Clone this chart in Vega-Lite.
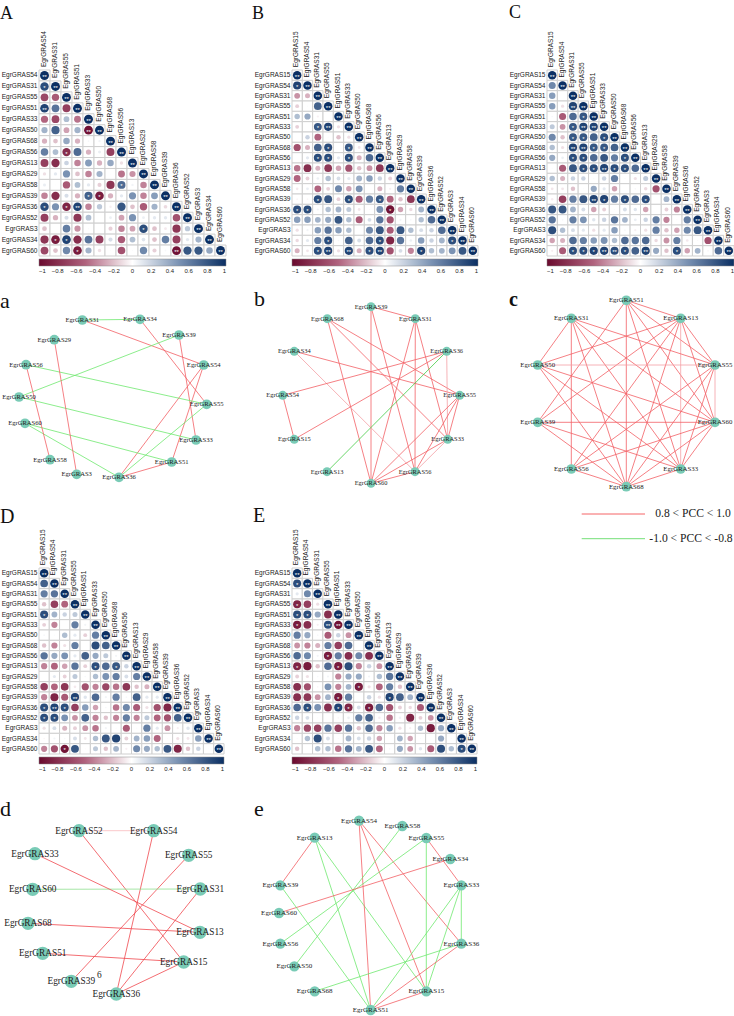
{"$schema":"https://vega.github.io/schema/vega-lite/v6.json","autosize":"none","padding":{"left":39,"top":70,"right":695,"bottom":946},"background":"white","columns":3,"spacing":{"row":34,"column":66},"bounds":"flush","config":{"view":{"stroke":null}},"resolve":{"scale":{"color":"independent","size":"independent","strokeWidth":"independent"}},
"datasets":{
"dA":[{"a":"S54","b":"S54","r":1,"s":"**"},
{"a":"S54","b":"S31","r":0.85,"s":"*"},{"a":"S31","b":"S31","r":1,"s":"**"},
{"a":"S54","b":"S55","r":-0.65},{"a":"S31","b":"S55","r":-0.55},{"a":"S55","b":"S55","r":1,"s":"**"},
{"a":"S54","b":"S51","r":0.9,"s":"**"},{"a":"S31","b":"S51","r":0.65},{"a":"S55","b":"S51","r":-0.7},{"a":"S51","b":"S51","r":1,"s":"**"},
{"a":"S54","b":"S33","r":-0.5},{"a":"S31","b":"S33","r":-0.65},{"a":"S55","b":"S33","r":0.3},{"a":"S51","b":"S33","r":-0.45},{"a":"S33","b":"S33","r":1,"s":"**"},
{"a":"S54","b":"S50","r":0.35},{"a":"S31","b":"S50","r":0.75},{"a":"S55","b":"S50","r":-0.3},{"a":"S51","b":"S50","r":0.35},{"a":"S33","b":"S50","r":-0.95,"s":"**"},{"a":"S50","b":"S50","r":1,"s":"**"},
{"a":"S54","b":"S68","r":-0.25},{"a":"S31","b":"S68","r":-0.2},{"a":"S55","b":"S68","r":0.4},{"a":"S51","b":"S68","r":-0.25},{"a":"S33","b":"S68","r":0.03},{"a":"S50","b":"S68","r":0.05},{"a":"S68","b":"S68","r":1,"s":"**"},
{"a":"S54","b":"S56","r":0.6},{"a":"S31","b":"S56","r":0.3},{"a":"S55","b":"S56","r":-0.8,"s":"*"},{"a":"S51","b":"S56","r":0.7},{"a":"S33","b":"S56","r":-0.25},{"a":"S50","b":"S56","r":0.08},{"a":"S68","b":"S56","r":-0.7},{"a":"S56","b":"S56","r":1,"s":"**"},
{"a":"S54","b":"S13","r":-0.7},{"a":"S31","b":"S13","r":-0.8},{"a":"S55","b":"S13","r":0.2},{"a":"S51","b":"S13","r":-0.4},{"a":"S33","b":"S13","r":0.45},{"a":"S50","b":"S13","r":-0.25},{"a":"S68","b":"S13","r":0.4},{"a":"S56","b":"S13","r":-0.1},{"a":"S13","b":"S13","r":1,"s":"**"},
{"a":"S54","b":"S29","r":-0.1},{"a":"S31","b":"S29","r":0.1},{"a":"S55","b":"S29","r":0.5},{"a":"S51","b":"S29","r":-0.2},{"a":"S33","b":"S29","r":-0.4},{"a":"S50","b":"S29","r":0.35},{"a":"S68","b":"S29","r":0.01},{"a":"S56","b":"S29","r":-0.45},{"a":"S13","b":"S29","r":-0.35},{"a":"S29","b":"S29","r":1,"s":"**"},
{"a":"S54","b":"S58","r":0.08},{"a":"S31","b":"S58","r":0.01},{"a":"S55","b":"S58","r":-0.55},{"a":"S51","b":"S58","r":0.3},{"a":"S33","b":"S58","r":0.1},{"a":"S50","b":"S58","r":-0.15},{"a":"S68","b":"S58","r":-0.75},{"a":"S56","b":"S58","r":0.7,"s":"*"},{"a":"S13","b":"S58","r":0.05},{"a":"S29","b":"S58","r":-0.4},{"a":"S58","b":"S58","r":1,"s":"**"},
{"a":"S54","b":"S39","r":-0.4},{"a":"S31","b":"S39","r":-0.8},{"a":"S55","b":"S39","r":0.15},{"a":"S51","b":"S39","r":-0.25},{"a":"S33","b":"S39","r":0.75,"s":"*"},{"a":"S50","b":"S39","r":-0.9,"s":"*"},{"a":"S68","b":"S39","r":-0.25},{"a":"S56","b":"S39","r":0.1},{"a":"S13","b":"S39","r":0.5},{"a":"S29","b":"S39","r":-0.4},{"a":"S58","b":"S39","r":0.45},{"a":"S39","b":"S39","r":1,"s":"**"},
{"a":"S54","b":"S36","r":0.85,"s":"*"},{"a":"S31","b":"S36","r":0.5},{"a":"S55","b":"S36","r":-0.85,"s":"*"},{"a":"S51","b":"S36","r":0.9,"s":"**"},{"a":"S33","b":"S36","r":-0.4},{"a":"S50","b":"S36","r":0.25},{"a":"S68","b":"S36","r":-0.05},{"a":"S56","b":"S36","r":0.8},{"a":"S13","b":"S36","r":-0.2},{"a":"S29","b":"S36","r":-0.55},{"a":"S58","b":"S36","r":0.35},{"a":"S39","b":"S36","r":-0.12},{"a":"S36","b":"S36","r":1,"s":"**"},
{"a":"S54","b":"S52","r":-0.7},{"a":"S31","b":"S52","r":-0.25},{"a":"S55","b":"S52","r":0.15},{"a":"S51","b":"S52","r":-0.75},{"a":"S33","b":"S52","r":0.3},{"a":"S50","b":"S52","r":0},{"a":"S68","b":"S52","r":0.07},{"a":"S56","b":"S52","r":-0.3},{"a":"S13","b":"S52","r":0.5},{"a":"S29","b":"S52","r":0.07},{"a":"S58","b":"S52","r":0.1},{"a":"S39","b":"S52","r":0.1},{"a":"S36","b":"S52","r":-0.6},{"a":"S52","b":"S52","r":1,"s":"**"},
{"a":"S54","b":"S3","r":-0.2},{"a":"S31","b":"S3","r":0},{"a":"S55","b":"S3","r":0.6},{"a":"S51","b":"S3","r":-0.35},{"a":"S33","b":"S3","r":0.02},{"a":"S50","b":"S3","r":0},{"a":"S68","b":"S3","r":-0.15},{"a":"S56","b":"S3","r":-0.4},{"a":"S13","b":"S3","r":-0.3},{"a":"S29","b":"S3","r":0.85,"s":"*"},{"a":"S58","b":"S3","r":-0.2},{"a":"S39","b":"S3","r":-0.07},{"a":"S36","b":"S3","r":-0.75},{"a":"S52","b":"S3","r":0.25},{"a":"S3","b":"S3","r":1,"s":"**"},
{"a":"S54","b":"S34","r":-0.75},{"a":"S31","b":"S34","r":-0.9,"s":"*"},{"a":"S55","b":"S34","r":0.9,"s":"*"},{"a":"S51","b":"S34","r":-0.8},{"a":"S33","b":"S34","r":0.65},{"a":"S50","b":"S34","r":-0.7},{"a":"S68","b":"S34","r":0.15},{"a":"S56","b":"S34","r":-0.55},{"a":"S13","b":"S34","r":0.3},{"a":"S29","b":"S34","r":0.12},{"a":"S58","b":"S34","r":-0.2},{"a":"S39","b":"S34","r":0.6},{"a":"S36","b":"S34","r":-0.7},{"a":"S52","b":"S34","r":0.1},{"a":"S3","b":"S34","r":0.35},{"a":"S34","b":"S34","r":1,"s":"**"},
{"a":"S54","b":"S60","r":-0.65},{"a":"S31","b":"S60","r":-0.2},{"a":"S55","b":"S60","r":0.55},{"a":"S51","b":"S60","r":-0.9,"s":"*"},{"a":"S33","b":"S60","r":0.35},{"a":"S50","b":"S60","r":-0.1},{"a":"S68","b":"S60","r":0.01},{"a":"S56","b":"S60","r":-0.6},{"a":"S13","b":"S60","r":0.02},{"a":"S29","b":"S60","r":0.55},{"a":"S58","b":"S60","r":-0.15},{"a":"S39","b":"S60","r":0.03},{"a":"S36","b":"S60","r":-0.95,"s":"**"},{"a":"S52","b":"S60","r":0.8},{"a":"S3","b":"S60","r":0.8},{"a":"S34","b":"S60","r":0.4},{"a":"S60","b":"S60","r":1,"s":"**"}],
"dB":[{"a":"S15","b":"S15","r":1,"s":"**"},
{"a":"S15","b":"S54","r":0.9,"s":"*"},{"a":"S54","b":"S54","r":1,"s":"**"},
{"a":"S15","b":"S31","r":-0.35},{"a":"S54","b":"S31","r":-0.25},{"a":"S31","b":"S31","r":1,"s":"**"},
{"a":"S15","b":"S55","r":-0.15},{"a":"S54","b":"S55","r":0.02},{"a":"S31","b":"S55","r":0.75},{"a":"S55","b":"S55","r":1,"s":"**"},
{"a":"S15","b":"S51","r":0.3},{"a":"S54","b":"S51","r":0.4},{"a":"S31","b":"S51","r":-0.05},{"a":"S55","b":"S51","r":0},{"a":"S51","b":"S51","r":1,"s":"**"},
{"a":"S15","b":"S33","r":-0.15},{"a":"S54","b":"S33","r":0},{"a":"S31","b":"S33","r":0.8,"s":"*"},{"a":"S55","b":"S33","r":0.9,"s":"**"},{"a":"S51","b":"S33","r":-0.1},{"a":"S33","b":"S33","r":1,"s":"**"},
{"a":"S15","b":"S50","r":0},{"a":"S54","b":"S50","r":0.2},{"a":"S31","b":"S50","r":-0.5},{"a":"S55","b":"S50","r":0.02},{"a":"S51","b":"S50","r":-0.2},{"a":"S33","b":"S50","r":-0.1},{"a":"S50","b":"S50","r":1,"s":"**"},
{"a":"S15","b":"S68","r":-0.6},{"a":"S54","b":"S68","r":-0.25},{"a":"S31","b":"S68","r":0.75},{"a":"S55","b":"S68","r":0.85,"s":"*"},{"a":"S51","b":"S68","r":0},{"a":"S33","b":"S68","r":0.8,"s":"*"},{"a":"S50","b":"S68","r":-0.08},{"a":"S68","b":"S68","r":1,"s":"**"},
{"a":"S15","b":"S56","r":0},{"a":"S54","b":"S56","r":0.1},{"a":"S31","b":"S56","r":0.85,"s":"*"},{"a":"S55","b":"S56","r":0.85,"s":"*"},{"a":"S51","b":"S56","r":0.1},{"a":"S33","b":"S56","r":0.85,"s":"*"},{"a":"S50","b":"S56","r":-0.25},{"a":"S68","b":"S56","r":0.7},{"a":"S56","b":"S56","r":1,"s":"**"},
{"a":"S15","b":"S13","r":-0.45},{"a":"S54","b":"S13","r":-0.8},{"a":"S31","b":"S13","r":-0.25},{"a":"S55","b":"S13","r":-0.75},{"a":"S51","b":"S13","r":-0.3},{"a":"S33","b":"S13","r":-0.6},{"a":"S50","b":"S13","r":-0.2},{"a":"S68","b":"S13","r":-0.35},{"a":"S56","b":"S13","r":-0.75},{"a":"S13","b":"S13","r":1,"s":"**"},
{"a":"S15","b":"S29","r":-0.5},{"a":"S54","b":"S29","r":-0.15},{"a":"S31","b":"S29","r":0.07},{"a":"S55","b":"S29","r":0.3},{"a":"S51","b":"S29","r":0.15},{"a":"S33","b":"S29","r":0.1},{"a":"S50","b":"S29","r":0.35},{"a":"S68","b":"S29","r":0.45},{"a":"S56","b":"S29","r":0.2},{"a":"S13","b":"S29","r":-0.15},{"a":"S29","b":"S29","r":1,"s":"**"},
{"a":"S15","b":"S58","r":-0.07},{"a":"S54","b":"S58","r":0.08},{"a":"S31","b":"S58","r":-0.5},{"a":"S55","b":"S58","r":-0.15},{"a":"S51","b":"S58","r":0.55},{"a":"S33","b":"S58","r":-0.3},{"a":"S50","b":"S58","r":0.5},{"a":"S68","b":"S58","r":0},{"a":"S56","b":"S58","r":-0.25},{"a":"S13","b":"S58","r":-0.05},{"a":"S29","b":"S58","r":0.6},{"a":"S58","b":"S58","r":1,"s":"**"},
{"a":"S15","b":"S39","r":-0.03},{"a":"S54","b":"S39","r":-0.03},{"a":"S31","b":"S39","r":0.85,"s":"*"},{"a":"S55","b":"S39","r":0.8},{"a":"S51","b":"S39","r":-0.15},{"a":"S33","b":"S39","r":0.85,"s":"*"},{"a":"S50","b":"S39","r":-0.55},{"a":"S68","b":"S39","r":0.6},{"a":"S56","b":"S39","r":0.8,"s":"*"},{"a":"S13","b":"S39","r":-0.5},{"a":"S29","b":"S39","r":-0.2},{"a":"S58","b":"S39","r":-0.75},{"a":"S39","b":"S39","r":1,"s":"**"},
{"a":"S15","b":"S36","r":0.85,"s":"*"},{"a":"S54","b":"S36","r":0.85,"s":"*"},{"a":"S31","b":"S36","r":0.05},{"a":"S55","b":"S36","r":0.3},{"a":"S51","b":"S36","r":0.35},{"a":"S33","b":"S36","r":0.25},{"a":"S50","b":"S36","r":-0.08},{"a":"S68","b":"S36","r":-0.02},{"a":"S56","b":"S36","r":0.5},{"a":"S13","b":"S36","r":-0.95,"s":"*"},{"a":"S29","b":"S36","r":-0.3},{"a":"S58","b":"S36","r":-0.12},{"a":"S39","b":"S36","r":0.35},{"a":"S36","b":"S36","r":1,"s":"**"},
{"a":"S15","b":"S52","r":0.45},{"a":"S54","b":"S52","r":0.45},{"a":"S31","b":"S52","r":0.35},{"a":"S55","b":"S52","r":0.4},{"a":"S51","b":"S52","r":0.8},{"a":"S33","b":"S52","r":0.3},{"a":"S50","b":"S52","r":-0.55},{"a":"S68","b":"S52","r":0.15},{"a":"S56","b":"S52","r":0.65},{"a":"S13","b":"S52","r":-0.6},{"a":"S29","b":"S52","r":0.05},{"a":"S58","b":"S52","r":0.03},{"a":"S39","b":"S52","r":0.3},{"a":"S36","b":"S52","r":0.7},{"a":"S52","b":"S52","r":1,"s":"**"},
{"a":"S15","b":"S3","r":-0.1},{"a":"S54","b":"S3","r":0.05},{"a":"S31","b":"S3","r":0.45},{"a":"S55","b":"S3","r":0.65},{"a":"S51","b":"S3","r":0.45},{"a":"S33","b":"S3","r":0.3},{"a":"S50","b":"S3","r":-0.01},{"a":"S68","b":"S3","r":0.55},{"a":"S56","b":"S3","r":0.8},{"a":"S13","b":"S3","r":-0.55},{"a":"S29","b":"S3","r":0.8},{"a":"S58","b":"S3","r":0.3},{"a":"S39","b":"S3","r":0.15},{"a":"S36","b":"S3","r":0.2},{"a":"S52","b":"S3","r":0.7},{"a":"S3","b":"S3","r":1,"s":"**"},
{"a":"S15","b":"S34","r":-0.12},{"a":"S54","b":"S34","r":0.1},{"a":"S31","b":"S34","r":0.6},{"a":"S55","b":"S34","r":0.85,"s":"*"},{"a":"S51","b":"S34","r":0.03},{"a":"S33","b":"S34","r":0.75},{"a":"S50","b":"S34","r":0.15},{"a":"S68","b":"S34","r":0.7},{"a":"S56","b":"S34","r":0.85,"s":"*"},{"a":"S13","b":"S34","r":-0.85},{"a":"S29","b":"S34","r":0.65},{"a":"S58","b":"S34","r":0.07},{"a":"S39","b":"S34","r":0.45},{"a":"S36","b":"S34","r":0.2},{"a":"S52","b":"S34","r":0.35},{"a":"S3","b":"S34","r":0.85,"s":"*"},{"a":"S34","b":"S34","r":1,"s":"**"},
{"a":"S15","b":"S60","r":-0.25},{"a":"S54","b":"S60","r":-0.08},{"a":"S31","b":"S60","r":0.85,"s":"*"},{"a":"S55","b":"S60","r":0.9,"s":"**"},{"a":"S51","b":"S60","r":-0.1},{"a":"S33","b":"S60","r":0.9,"s":"**"},{"a":"S50","b":"S60","r":-0.25},{"a":"S68","b":"S60","r":0.85,"s":"*"},{"a":"S56","b":"S60","r":0.9,"s":"**"},{"a":"S13","b":"S60","r":-0.6},{"a":"S29","b":"S60","r":0.15},{"a":"S58","b":"S60","r":-0.4},{"a":"S39","b":"S60","r":0.9,"s":"*"},{"a":"S36","b":"S60","r":0.3},{"a":"S52","b":"S60","r":0.35},{"a":"S3","b":"S60","r":0.5},{"a":"S34","b":"S60","r":0.8},{"a":"S60","b":"S60","r":1,"s":"**"}],
"dC":[{"a":"S15","b":"S15","r":1,"s":"**"},
{"a":"S15","b":"S54","r":0.55},{"a":"S54","b":"S54","r":1,"s":"**"},
{"a":"S15","b":"S31","r":0.45},{"a":"S54","b":"S31","r":0},{"a":"S31","b":"S31","r":1,"s":"**"},
{"a":"S15","b":"S55","r":0.45},{"a":"S54","b":"S55","r":-0.1},{"a":"S31","b":"S55","r":0.9,"s":"**"},{"a":"S55","b":"S55","r":1,"s":"**"},
{"a":"S15","b":"S51","r":0.03},{"a":"S54","b":"S51","r":-0.55},{"a":"S31","b":"S51","r":0.7},{"a":"S55","b":"S51","r":0.8,"s":"*"},{"a":"S51","b":"S51","r":1,"s":"**"},
{"a":"S15","b":"S33","r":0.25},{"a":"S54","b":"S33","r":-0.35},{"a":"S31","b":"S33","r":0.8,"s":"*"},{"a":"S55","b":"S33","r":0.9,"s":"**"},{"a":"S51","b":"S33","r":0.9,"s":"**"},{"a":"S33","b":"S33","r":1,"s":"**"},
{"a":"S15","b":"S50","r":0.55},{"a":"S54","b":"S50","r":-0.2},{"a":"S31","b":"S50","r":0.8,"s":"*"},{"a":"S55","b":"S50","r":0.8,"s":"*"},{"a":"S51","b":"S50","r":0.75},{"a":"S33","b":"S50","r":0.85,"s":"*"},{"a":"S50","b":"S50","r":1,"s":"**"},
{"a":"S15","b":"S68","r":0.3},{"a":"S54","b":"S68","r":-0.1},{"a":"S31","b":"S68","r":0.9,"s":"**"},{"a":"S55","b":"S68","r":0.9,"s":"**"},{"a":"S51","b":"S68","r":0.8,"s":"*"},{"a":"S33","b":"S68","r":0.8,"s":"*"},{"a":"S50","b":"S68","r":0.75},{"a":"S68","b":"S68","r":1,"s":"**"},
{"a":"S15","b":"S56","r":0.4},{"a":"S54","b":"S56","r":0.07},{"a":"S31","b":"S56","r":0.85,"s":"*"},{"a":"S55","b":"S56","r":0.85,"s":"*"},{"a":"S51","b":"S56","r":0.7},{"a":"S33","b":"S56","r":0.8},{"a":"S50","b":"S56","r":0.6},{"a":"S68","b":"S56","r":0.85,"s":"*"},{"a":"S56","b":"S56","r":1,"s":"**"},
{"a":"S15","b":"S13","r":0.02},{"a":"S54","b":"S13","r":-0.55},{"a":"S31","b":"S13","r":0.8},{"a":"S55","b":"S13","r":0.85,"s":"*"},{"a":"S51","b":"S13","r":0.85,"s":"*"},{"a":"S33","b":"S13","r":0.9,"s":"**"},{"a":"S50","b":"S13","r":0.85,"s":"*"},{"a":"S68","b":"S13","r":0.85,"s":"*"},{"a":"S56","b":"S13","r":0.7},{"a":"S13","b":"S13","r":1,"s":"**"},
{"a":"S15","b":"S29","r":0.3},{"a":"S54","b":"S29","r":-0.25},{"a":"S31","b":"S29","r":0.2},{"a":"S55","b":"S29","r":0.2},{"a":"S51","b":"S29","r":0.02},{"a":"S33","b":"S29","r":0.2},{"a":"S50","b":"S29","r":0.6},{"a":"S68","b":"S29","r":0.02},{"a":"S56","b":"S29","r":-0.1},{"a":"S13","b":"S29","r":0.25},{"a":"S29","b":"S29","r":1,"s":"**"},
{"a":"S15","b":"S58","r":-0.08},{"a":"S54","b":"S58","r":-0.08},{"a":"S31","b":"S58","r":-0.2},{"a":"S55","b":"S58","r":0.02},{"a":"S51","b":"S58","r":0.4},{"a":"S33","b":"S58","r":0.1},{"a":"S50","b":"S58","r":-0.3},{"a":"S68","b":"S58","r":0},{"a":"S56","b":"S58","r":0.03},{"a":"S13","b":"S58","r":-0.12},{"a":"S29","b":"S58","r":-0.6},{"a":"S58","b":"S58","r":1,"s":"**"},
{"a":"S15","b":"S39","r":-0.06},{"a":"S54","b":"S39","r":-0.7},{"a":"S31","b":"S39","r":0.6},{"a":"S55","b":"S39","r":0.8},{"a":"S51","b":"S39","r":0.9,"s":"**"},{"a":"S33","b":"S39","r":0.9,"s":"*"},{"a":"S50","b":"S39","r":0.6},{"a":"S68","b":"S39","r":0.85,"s":"*"},{"a":"S56","b":"S39","r":0.7},{"a":"S13","b":"S39","r":0.85,"s":"*"},{"a":"S29","b":"S39","r":0},{"a":"S58","b":"S39","r":0.35},{"a":"S39","b":"S39","r":1,"s":"**"},
{"a":"S15","b":"S36","r":0.8},{"a":"S54","b":"S36","r":0.8},{"a":"S31","b":"S36","r":0.35},{"a":"S55","b":"S36","r":0.15},{"a":"S51","b":"S36","r":-0.3},{"a":"S33","b":"S36","r":-0.15},{"a":"S50","b":"S36","r":0.02},{"a":"S68","b":"S36","r":0.15},{"a":"S56","b":"S36","r":0.12},{"a":"S13","b":"S36","r":-0.3},{"a":"S29","b":"S36","r":0},{"a":"S58","b":"S36","r":-0.15},{"a":"S39","b":"S36","r":-0.4},{"a":"S36","b":"S36","r":1,"s":"**"},
{"a":"S15","b":"S52","r":0.65},{"a":"S54","b":"S52","r":0.03},{"a":"S31","b":"S52","r":0.6},{"a":"S55","b":"S52","r":0.5},{"a":"S51","b":"S52","r":0.12},{"a":"S33","b":"S52","r":0.2},{"a":"S50","b":"S52","r":0.65},{"a":"S68","b":"S52","r":0.35},{"a":"S56","b":"S52","r":0.08},{"a":"S13","b":"S52","r":0.2},{"a":"S29","b":"S52","r":0.6},{"a":"S58","b":"S52","r":-0.4},{"a":"S39","b":"S52","r":0.02},{"a":"S36","b":"S52","r":0.6},{"a":"S52","b":"S52","r":1,"s":"**"},
{"a":"S15","b":"S3","r":0.85},{"a":"S54","b":"S3","r":0.3},{"a":"S31","b":"S3","r":0.15},{"a":"S55","b":"S3","r":0.1},{"a":"S51","b":"S3","r":-0.1},{"a":"S33","b":"S3","r":0.1},{"a":"S50","b":"S3","r":0.45},{"a":"S68","b":"S3","r":0.03},{"a":"S56","b":"S3","r":-0.05},{"a":"S13","b":"S3","r":-0.1},{"a":"S29","b":"S3","r":0.6},{"a":"S58","b":"S3","r":-0.2},{"a":"S39","b":"S3","r":-0.3},{"a":"S36","b":"S3","r":0.55},{"a":"S52","b":"S3","r":0.8},{"a":"S3","b":"S3","r":1,"s":"**"},
{"a":"S15","b":"S34","r":-0.3},{"a":"S54","b":"S34","r":-0.25},{"a":"S31","b":"S34","r":0.7},{"a":"S55","b":"S34","r":0.6},{"a":"S51","b":"S34","r":0.45},{"a":"S33","b":"S34","r":0.5},{"a":"S50","b":"S34","r":0.3},{"a":"S68","b":"S34","r":0.7},{"a":"S56","b":"S34","r":0.65},{"a":"S13","b":"S34","r":0.7},{"a":"S29","b":"S34","r":-0.12},{"a":"S58","b":"S34","r":-0.35},{"a":"S39","b":"S34","r":0.6},{"a":"S36","b":"S34","r":-0.07},{"a":"S52","b":"S34","r":-0.02},{"a":"S3","b":"S34","r":-0.6},{"a":"S34","b":"S34","r":1,"s":"**"},
{"a":"S15","b":"S60","r":-0.05},{"a":"S54","b":"S60","r":-0.55},{"a":"S31","b":"S60","r":0.85,"s":"*"},{"a":"S55","b":"S60","r":0.85,"s":"*"},{"a":"S51","b":"S60","r":0.9,"s":"*"},{"a":"S33","b":"S60","r":0.9,"s":"**"},{"a":"S50","b":"S60","r":0.85,"s":"**"},{"a":"S68","b":"S60","r":0.85,"s":"*"},{"a":"S56","b":"S60","r":0.75},{"a":"S13","b":"S60","r":0.9,"s":"**"},{"a":"S29","b":"S60","r":0.4},{"a":"S58","b":"S60","r":-0.2},{"a":"S39","b":"S60","r":0.85,"s":"*"},{"a":"S36","b":"S60","r":-0.3},{"a":"S52","b":"S60","r":0.35},{"a":"S3","b":"S60","r":-0.03},{"a":"S34","b":"S60","r":0.7},{"a":"S60","b":"S60","r":1,"s":"**"}],
"dD":[{"a":"S15","b":"S15","r":1,"s":"**"},
{"a":"S15","b":"S54","r":0.75},{"a":"S54","b":"S54","r":1,"s":"**"},
{"a":"S15","b":"S31","r":0.6},{"a":"S54","b":"S31","r":0.65},{"a":"S31","b":"S31","r":1,"s":"**"},
{"a":"S15","b":"S55","r":-0.2},{"a":"S54","b":"S55","r":-0.7},{"a":"S31","b":"S55","r":-0.5},{"a":"S55","b":"S55","r":1,"s":"**"},
{"a":"S15","b":"S51","r":0.85,"s":"*"},{"a":"S54","b":"S51","r":0.35},{"a":"S31","b":"S51","r":0.2},{"a":"S55","b":"S51","r":0.25},{"a":"S51","b":"S51","r":1,"s":"**"},
{"a":"S15","b":"S33","r":-0.15},{"a":"S54","b":"S33","r":-0.4},{"a":"S31","b":"S33","r":0},{"a":"S55","b":"S33","r":0.6},{"a":"S51","b":"S33","r":0.05},{"a":"S33","b":"S33","r":1,"s":"**"},
{"a":"S15","b":"S50","r":0.03},{"a":"S54","b":"S50","r":0.02},{"a":"S31","b":"S50","r":0.3},{"a":"S55","b":"S50","r":0.1},{"a":"S51","b":"S50","r":-0.15},{"a":"S33","b":"S50","r":0.6},{"a":"S50","b":"S50","r":1,"s":"**"},
{"a":"S15","b":"S68","r":-0.2},{"a":"S54","b":"S68","r":-0.4},{"a":"S31","b":"S68","r":-0.1},{"a":"S55","b":"S68","r":0.6},{"a":"S51","b":"S68","r":0},{"a":"S33","b":"S68","r":0.85},{"a":"S50","b":"S68","r":0.75},{"a":"S68","b":"S68","r":1,"s":"**"},
{"a":"S15","b":"S56","r":0.65},{"a":"S54","b":"S56","r":0.4},{"a":"S31","b":"S56","r":0.5},{"a":"S55","b":"S56","r":0.1},{"a":"S51","b":"S56","r":0.75},{"a":"S33","b":"S56","r":0.4},{"a":"S50","b":"S56","r":0.25},{"a":"S68","b":"S56","r":0.05},{"a":"S56","b":"S56","r":1,"s":"**"},
{"a":"S15","b":"S13","r":-0.4},{"a":"S54","b":"S13","r":-0.5},{"a":"S31","b":"S13","r":-0.3},{"a":"S55","b":"S13","r":0.65},{"a":"S51","b":"S13","r":-0.15},{"a":"S33","b":"S13","r":0.85,"s":"*"},{"a":"S50","b":"S13","r":0.7},{"a":"S68","b":"S13","r":0.8,"s":"*"},{"a":"S56","b":"S13","r":0.2},{"a":"S13","b":"S13","r":1,"s":"**"},
{"a":"S15","b":"S29","r":0},{"a":"S54","b":"S29","r":0.1},{"a":"S31","b":"S29","r":-0.15},{"a":"S55","b":"S29","r":0.25},{"a":"S51","b":"S29","r":0.03},{"a":"S33","b":"S29","r":0.3},{"a":"S50","b":"S29","r":0.5},{"a":"S68","b":"S29","r":0.6},{"a":"S56","b":"S29","r":0.15},{"a":"S13","b":"S29","r":0.6},{"a":"S29","b":"S29","r":1,"s":"**"},
{"a":"S15","b":"S58","r":-0.7},{"a":"S54","b":"S58","r":-0.5},{"a":"S31","b":"S58","r":-0.75},{"a":"S55","b":"S58","r":-0.07},{"a":"S51","b":"S58","r":-0.6},{"a":"S33","b":"S58","r":-0.4},{"a":"S50","b":"S58","r":-0.65},{"a":"S68","b":"S58","r":-0.45},{"a":"S56","b":"S58","r":-0.75},{"a":"S13","b":"S58","r":-0.2},{"a":"S29","b":"S58","r":-0.25},{"a":"S58","b":"S58","r":1,"s":"**"},
{"a":"S15","b":"S39","r":-0.4},{"a":"S54","b":"S39","r":-0.85},{"a":"S31","b":"S39","r":-0.55},{"a":"S55","b":"S39","r":0.9,"s":"**"},{"a":"S51","b":"S39","r":0.12},{"a":"S33","b":"S39","r":0.7},{"a":"S50","b":"S39","r":0.05},{"a":"S68","b":"S39","r":0.6},{"a":"S56","b":"S39","r":0.03},{"a":"S13","b":"S39","r":0.75},{"a":"S29","b":"S39","r":0.1},{"a":"S58","b":"S39","r":0.1},{"a":"S39","b":"S39","r":1,"s":"**"},
{"a":"S15","b":"S36","r":0.85,"s":"*"},{"a":"S54","b":"S36","r":0.9,"s":"**"},{"a":"S31","b":"S36","r":0.85,"s":"*"},{"a":"S55","b":"S36","r":-0.7},{"a":"S51","b":"S36","r":0.45},{"a":"S33","b":"S36","r":-0.3},{"a":"S50","b":"S36","r":0.03},{"a":"S68","b":"S36","r":-0.45},{"a":"S56","b":"S36","r":0.55},{"a":"S13","b":"S36","r":-0.55},{"a":"S29","b":"S36","r":-0.1},{"a":"S58","b":"S36","r":-0.6},{"a":"S39","b":"S36","r":-0.85},{"a":"S36","b":"S36","r":1,"s":"**"},
{"a":"S15","b":"S52","r":0.85,"s":"*"},{"a":"S54","b":"S52","r":0.85,"s":"*"},{"a":"S31","b":"S52","r":0.5},{"a":"S55","b":"S52","r":-0.35},{"a":"S51","b":"S52","r":0.75},{"a":"S33","b":"S52","r":-0.4},{"a":"S50","b":"S52","r":-0.2},{"a":"S68","b":"S52","r":-0.4},{"a":"S56","b":"S52","r":0.6},{"a":"S13","b":"S52","r":-0.4},{"a":"S29","b":"S52","r":0.25},{"a":"S58","b":"S52","r":-0.5},{"a":"S39","b":"S52","r":-0.6},{"a":"S36","b":"S52","r":0.75},{"a":"S52","b":"S52","r":1,"s":"**"},
{"a":"S15","b":"S3","r":-0.1},{"a":"S54","b":"S3","r":0.15},{"a":"S31","b":"S3","r":-0.25},{"a":"S55","b":"S3","r":-0.15},{"a":"S51","b":"S3","r":-0.35},{"a":"S33","b":"S3","r":-0.45},{"a":"S50","b":"S3","r":0.05},{"a":"S68","b":"S3","r":0.02},{"a":"S56","b":"S3","r":-0.55},{"a":"S13","b":"S3","r":0.02},{"a":"S29","b":"S3","r":0.6},{"a":"S58","b":"S3","r":0.1},{"a":"S39","b":"S3","r":-0.35},{"a":"S36","b":"S3","r":-0.05},{"a":"S52","b":"S3","r":0.12},{"a":"S3","b":"S3","r":1,"s":"**"},
{"a":"S15","b":"S34","r":-0.03},{"a":"S54","b":"S34","r":0.05},{"a":"S31","b":"S34","r":0.03},{"a":"S55","b":"S34","r":0.15},{"a":"S51","b":"S34","r":-0.08},{"a":"S33","b":"S34","r":0.3},{"a":"S50","b":"S34","r":0.8},{"a":"S68","b":"S34","r":0.9},{"a":"S56","b":"S34","r":-0.15},{"a":"S13","b":"S34","r":0.35},{"a":"S29","b":"S34","r":0.45},{"a":"S58","b":"S34","r":-0.5},{"a":"S39","b":"S34","r":-0.01},{"a":"S36","b":"S34","r":-0.1},{"a":"S52","b":"S34","r":-0.08},{"a":"S3","b":"S34","r":0.45},{"a":"S34","b":"S34","r":1,"s":"**"},
{"a":"S15","b":"S60","r":-0.4},{"a":"S54","b":"S60","r":-0.6},{"a":"S31","b":"S60","r":-0.95,"s":"*"},{"a":"S55","b":"S60","r":0.8},{"a":"S51","b":"S60","r":-0.02},{"a":"S33","b":"S60","r":0.25},{"a":"S50","b":"S60","r":-0.2},{"a":"S68","b":"S60","r":0.35},{"a":"S56","b":"S60","r":-0.05},{"a":"S13","b":"S60","r":0.55},{"a":"S29","b":"S60","r":0.4},{"a":"S58","b":"S60","r":0.3},{"a":"S39","b":"S60","r":0.8},{"a":"S36","b":"S60","r":-0.85},{"a":"S52","b":"S60","r":-0.2},{"a":"S3","b":"S60","r":0.2},{"a":"S34","b":"S60","r":-0.01},{"a":"S60","b":"S60","r":1,"s":"**"}],
"dE":[{"a":"S15","b":"S15","r":1,"s":"**"},
{"a":"S15","b":"S54","r":0.85,"s":"*"},{"a":"S54","b":"S54","r":1,"s":"**"},
{"a":"S15","b":"S31","r":0.1},{"a":"S54","b":"S31","r":0.55},{"a":"S31","b":"S31","r":1,"s":"**"},
{"a":"S15","b":"S55","r":-0.85,"s":"*"},{"a":"S54","b":"S55","r":-0.7},{"a":"S31","b":"S55","r":-0.1},{"a":"S55","b":"S55","r":1,"s":"**"},
{"a":"S15","b":"S51","r":0.85,"s":"*"},{"a":"S54","b":"S51","r":0.85,"s":"*"},{"a":"S31","b":"S51","r":0.4},{"a":"S55","b":"S51","r":-0.8},{"a":"S51","b":"S51","r":1,"s":"**"},
{"a":"S15","b":"S33","r":-0.9,"s":"*"},{"a":"S54","b":"S33","r":-0.8},{"a":"S31","b":"S33","r":-0.05},{"a":"S55","b":"S33","r":0.85,"s":"**"},{"a":"S51","b":"S33","r":-0.95,"s":"**"},{"a":"S33","b":"S33","r":1,"s":"**"},
{"a":"S15","b":"S50","r":0.6},{"a":"S54","b":"S50","r":0.4},{"a":"S31","b":"S50","r":0.03},{"a":"S55","b":"S50","r":-0.55},{"a":"S51","b":"S50","r":0.2},{"a":"S33","b":"S50","r":-0.35},{"a":"S50","b":"S50","r":1,"s":"**"},
{"a":"S15","b":"S68","r":-0.35},{"a":"S54","b":"S68","r":-0.4},{"a":"S31","b":"S68","r":-0.25},{"a":"S55","b":"S68","r":0.6},{"a":"S51","b":"S68","r":-0.7},{"a":"S33","b":"S68","r":0.7},{"a":"S50","b":"S68","r":0},{"a":"S68","b":"S68","r":1,"s":"**"},
{"a":"S15","b":"S56","r":0.7},{"a":"S54","b":"S56","r":0.55},{"a":"S31","b":"S56","r":0.05},{"a":"S55","b":"S56","r":-0.9,"s":"*"},{"a":"S51","b":"S56","r":0.6},{"a":"S33","b":"S56","r":-0.8},{"a":"S50","b":"S56","r":0.55},{"a":"S68","b":"S56","r":-0.8},{"a":"S56","b":"S56","r":1,"s":"**"},
{"a":"S15","b":"S13","r":-0.85,"s":"*"},{"a":"S54","b":"S13","r":-0.9},{"a":"S31","b":"S13","r":-0.2},{"a":"S55","b":"S13","r":0.7},{"a":"S51","b":"S13","r":-0.9,"s":"*"},{"a":"S33","b":"S13","r":0.85},{"a":"S50","b":"S13","r":-0.4},{"a":"S68","b":"S13","r":0.2},{"a":"S56","b":"S13","r":-0.35},{"a":"S13","b":"S13","r":1,"s":"**"},
{"a":"S15","b":"S29","r":-0.15},{"a":"S54","b":"S29","r":-0.1},{"a":"S31","b":"S29","r":0.03},{"a":"S55","b":"S29","r":0.05},{"a":"S51","b":"S29","r":-0.4},{"a":"S33","b":"S29","r":0.4},{"a":"S50","b":"S29","r":0.4},{"a":"S68","b":"S29","r":0.05},{"a":"S56","b":"S29","r":0.3},{"a":"S13","b":"S29","r":0.65},{"a":"S29","b":"S29","r":1,"s":"**"},
{"a":"S15","b":"S58","r":-0.8},{"a":"S54","b":"S58","r":-0.6},{"a":"S31","b":"S58","r":-0.03},{"a":"S55","b":"S58","r":0.5},{"a":"S51","b":"S58","r":-0.4},{"a":"S33","b":"S58","r":0.35},{"a":"S50","b":"S58","r":-0.9,"s":"*"},{"a":"S68","b":"S58","r":-0.1},{"a":"S56","b":"S58","r":-0.5},{"a":"S13","b":"S58","r":0.6},{"a":"S29","b":"S58","r":-0.2},{"a":"S58","b":"S58","r":1,"s":"**"},
{"a":"S15","b":"S39","r":-0.8},{"a":"S54","b":"S39","r":-0.75},{"a":"S31","b":"S39","r":-0.35},{"a":"S55","b":"S39","r":0.35},{"a":"S51","b":"S39","r":-0.9,"s":"*"},{"a":"S33","b":"S39","r":0.6},{"a":"S50","b":"S39","r":0},{"a":"S68","b":"S39","r":0.2},{"a":"S56","b":"S39","r":-0.1},{"a":"S13","b":"S39","r":0.9,"s":"*"},{"a":"S29","b":"S39","r":0.75},{"a":"S58","b":"S39","r":0.35},{"a":"S39","b":"S39","r":1,"s":"**"},
{"a":"S15","b":"S36","r":0.7},{"a":"S54","b":"S36","r":0.85,"s":"*"},{"a":"S31","b":"S36","r":0.5},{"a":"S55","b":"S36","r":-0.8},{"a":"S51","b":"S36","r":0.9,"s":"*"},{"a":"S33","b":"S36","r":-0.85,"s":"*"},{"a":"S50","b":"S36","r":0.15},{"a":"S68","b":"S36","r":-0.9,"s":"*"},{"a":"S56","b":"S36","r":0.7},{"a":"S13","b":"S36","r":-0.6},{"a":"S29","b":"S36","r":-0.15},{"a":"S58","b":"S36","r":-0.12},{"a":"S39","b":"S36","r":-0.55},{"a":"S36","b":"S36","r":1,"s":"**"},
{"a":"S15","b":"S52","r":0.2},{"a":"S54","b":"S52","r":0.15},{"a":"S31","b":"S52","r":0.02},{"a":"S55","b":"S52","r":0},{"a":"S51","b":"S52","r":-0.03},{"a":"S33","b":"S52","r":0.07},{"a":"S50","b":"S52","r":0.6},{"a":"S68","b":"S52","r":0.75},{"a":"S56","b":"S52","r":-0.06},{"a":"S13","b":"S52","r":-0.45},{"a":"S29","b":"S52","r":0.06},{"a":"S58","b":"S52","r":-0.85},{"a":"S39","b":"S52","r":-0.15},{"a":"S36","b":"S52","r":-0.35},{"a":"S52","b":"S52","r":1,"s":"**"},
{"a":"S15","b":"S3","r":-0.4},{"a":"S54","b":"S3","r":-0.65},{"a":"S31","b":"S3","r":-0.7},{"a":"S55","b":"S3","r":0.65},{"a":"S51","b":"S3","r":-0.7},{"a":"S33","b":"S3","r":0.65},{"a":"S50","b":"S3","r":-0.2},{"a":"S68","b":"S3","r":0.7},{"a":"S56","b":"S3","r":-0.4},{"a":"S13","b":"S3","r":0.45},{"a":"S29","b":"S3","r":-0.1},{"a":"S58","b":"S3","r":-0.05},{"a":"S39","b":"S3","r":0.3},{"a":"S36","b":"S3","r":-0.9},{"a":"S52","b":"S3","r":0.4},{"a":"S3","b":"S3","r":1,"s":"**"},
{"a":"S15","b":"S34","r":0.02},{"a":"S54","b":"S34","r":0.3},{"a":"S31","b":"S34","r":0.85},{"a":"S55","b":"S34","r":0.15},{"a":"S51","b":"S34","r":0.02},{"a":"S33","b":"S34","r":0.35},{"a":"S50","b":"S34","r":0.15},{"a":"S68","b":"S34","r":0.2},{"a":"S56","b":"S34","r":-0.3},{"a":"S13","b":"S34","r":0},{"a":"S29","b":"S34","r":0.35},{"a":"S58","b":"S34","r":-0.3},{"a":"S39","b":"S34","r":0.02},{"a":"S36","b":"S34","r":0},{"a":"S52","b":"S34","r":0.4},{"a":"S3","b":"S34","r":0.02},{"a":"S34","b":"S34","r":1,"s":"**"},
{"a":"S15","b":"S60","r":-0.2},{"a":"S54","b":"S60","r":0},{"a":"S31","b":"S60","r":0.3},{"a":"S55","b":"S60","r":0.3},{"a":"S51","b":"S60","r":-0.45},{"a":"S33","b":"S60","r":0.65},{"a":"S50","b":"S60","r":0.35},{"a":"S68","b":"S60","r":0.8},{"a":"S56","b":"S60","r":-0.5},{"a":"S13","b":"S60","r":0.03},{"a":"S29","b":"S60","r":0.4},{"a":"S58","b":"S60","r":-0.35},{"a":"S39","b":"S60","r":0.12},{"a":"S36","b":"S60","r":-0.55},{"a":"S52","b":"S60","r":0.85},{"a":"S3","b":"S60","r":0.3},{"a":"S34","b":"S60","r":0.85,"s":"*"},{"a":"S60","b":"S60","r":1,"s":"**"}],
"na":[{"g":"S31","x":82.3,"y":320},{"g":"S34","x":140,"y":319.3},{"g":"S39","x":179,"y":335},{"g":"S54","x":203.7,"y":365},{"g":"S55","x":206.7,"y":404.3},{"g":"S33","x":196,"y":440},{"g":"S51","x":171.7,"y":462},{"g":"S36","x":119,"y":477.3},{"g":"S3","x":76.7,"y":474.3},{"g":"S58","x":50,"y":459.7},{"g":"S60","x":25,"y":423.3},{"g":"S50","x":19,"y":397},{"g":"S56","x":26,"y":364.7},{"g":"S29","x":54.3,"y":339.7}],
"ea":[{"a":"S31","b":"S34","t":"n"},{"a":"S31","b":"S54","t":"p"},{"a":"S34","b":"S55","t":"p"},{"a":"S39","b":"S33","t":"p"},{"a":"S39","b":"S50","t":"n"},{"a":"S54","b":"S36","t":"p"},{"a":"S54","b":"S51","t":"p"},{"a":"S55","b":"S36","t":"n"},{"a":"S56","b":"S55","t":"n"},{"a":"S50","b":"S33","t":"n"},{"a":"S60","b":"S51","t":"n"},{"a":"S60","b":"S36","t":"n"},{"a":"S56","b":"S58","t":"p"},{"a":"S29","b":"S3","t":"p"},{"a":"S36","b":"S51","t":"p"}],
"nb":[{"g":"S39","x":371,"y":306.7},{"g":"S31","x":415.3,"y":318.7},{"g":"S36","x":446.7,"y":351.3},{"g":"S55","x":459.7,"y":395.3},{"g":"S33","x":447.7,"y":439.3},{"g":"S56","x":415,"y":471.7},{"g":"S60","x":371,"y":483.3},{"g":"S13","x":327,"y":471.7},{"g":"S15","x":294.3,"y":439.3},{"g":"S54","x":282.7,"y":395.3},{"g":"S34","x":294.3,"y":351.3},{"g":"S68","x":327.3,"y":318.7}],
"eb":[{"a":"S39","b":"S31","t":"p"},{"a":"S39","b":"S60","t":"p"},{"a":"S39","b":"S56","t":"p"},{"a":"S68","b":"S60","t":"p"},{"a":"S68","b":"S55","t":"p"},{"a":"S68","b":"S33","t":"p"},{"a":"S31","b":"S60","t":"p"},{"a":"S31","b":"S56","t":"p"},{"a":"S31","b":"S33","t":"p"},{"a":"S34","b":"S55","t":"p"},{"a":"S34","b":"S56","t":"l"},{"a":"S36","b":"S54","t":"p"},{"a":"S36","b":"S15","t":"p"},{"a":"S36","b":"S13","t":"n"},{"a":"S36","b":"S33","t":"l"},{"a":"S54","b":"S15","t":"p"},{"a":"S55","b":"S60","t":"p"},{"a":"S55","b":"S56","t":"p"},{"a":"S55","b":"S33","t":"p"},{"a":"S33","b":"S60","t":"p"},{"a":"S33","b":"S56","t":"l"},{"a":"S56","b":"S60","t":"p"}],
"nc":[{"g":"S51","x":626.3,"y":300.3},{"g":"S13","x":680.7,"y":318.3},{"g":"S55","x":715,"y":365},{"g":"S60","x":715,"y":422.3},{"g":"S33","x":680.7,"y":469},{"g":"S68","x":626.3,"y":486.7},{"g":"S56","x":571.3,"y":469},{"g":"S39","x":537.7,"y":422.3},{"g":"S50","x":537.7,"y":365},{"g":"S31","x":571.3,"y":318.3}],
"ec":[{"a":"S51","b":"S13","t":"p"},{"a":"S51","b":"S55","t":"p"},{"a":"S51","b":"S33","t":"p"},{"a":"S51","b":"S68","t":"p"},{"a":"S51","b":"S39","t":"p"},{"a":"S51","b":"S60","t":"p"},{"a":"S13","b":"S55","t":"p"},{"a":"S13","b":"S50","t":"p"},{"a":"S13","b":"S39","t":"p"},{"a":"S13","b":"S68","t":"p"},{"a":"S13","b":"S33","t":"l"},{"a":"S13","b":"S60","t":"p"},{"a":"S13","b":"S56","t":"p"},{"a":"S31","b":"S50","t":"p"},{"a":"S31","b":"S55","t":"p"},{"a":"S31","b":"S60","t":"p"},{"a":"S31","b":"S33","t":"p"},{"a":"S31","b":"S68","t":"p"},{"a":"S31","b":"S56","t":"p"},{"a":"S50","b":"S55","t":"l"},{"a":"S50","b":"S60","t":"p"},{"a":"S50","b":"S33","t":"p"},{"a":"S50","b":"S68","t":"p"},{"a":"S39","b":"S60","t":"p"},{"a":"S39","b":"S33","t":"p"},{"a":"S39","b":"S68","t":"p"},{"a":"S55","b":"S60","t":"l"},{"a":"S55","b":"S33","t":"p"},{"a":"S55","b":"S68","t":"p"},{"a":"S55","b":"S56","t":"p"},{"a":"S60","b":"S33","t":"p"},{"a":"S60","b":"S68","t":"p"},{"a":"S60","b":"S56","t":"p"},{"a":"S33","b":"S68","t":"p"},{"a":"S56","b":"S68","t":"p"}],
"leg":[{"x":581.7,"x2":645,"y":514,"tx":693,"t":"P","label":"0.8 < PCC < 1.0"},{"x":581.7,"x2":645,"y":538.7,"tx":691,"t":"N","label":"-1.0 < PCC < -0.8"}],
"nd":[{"g":"S52","x":79,"y":830.7},{"g":"S54","x":153.7,"y":830.7},{"g":"S55","x":188.7,"y":855.3},{"g":"S31","x":200.3,"y":889},{"g":"S13","x":200,"y":932.3},{"g":"S15","x":183.7,"y":962},{"g":"S36","x":116.3,"y":994},{"g":"S39","x":71.3,"y":981.3},{"g":"S51","x":42.7,"y":953.3},{"g":"S68","x":28,"y":923.3},{"g":"S60","x":32.7,"y":889.3},{"g":"S33","x":35,"y":853.7}],
"ed":[{"a":"S52","b":"S54","t":"l"},{"a":"S52","b":"S15","t":"p"},{"a":"S54","b":"S36","t":"p"},{"a":"S55","b":"S39","t":"p"},{"a":"S31","b":"S36","t":"p"},{"a":"S60","b":"S31","t":"n"},{"a":"S33","b":"S13","t":"p"},{"a":"S68","b":"S13","t":"p"},{"a":"S51","b":"S15","t":"p"},{"a":"S15","b":"S36","t":"p"}],
"note":[{"x":99.3,"y":975,"label":"6"}],
"ne":[{"g":"S54","x":359,"y":820.7},{"g":"S58","x":402.3,"y":826},{"g":"S55","x":426.3,"y":838},{"g":"S34","x":450.3,"y":859},{"g":"S33","x":461.3,"y":885.3},{"g":"S36","x":461.3,"y":943.7},{"g":"S15","x":426.3,"y":991.3},{"g":"S51","x":370.7,"y":1010},{"g":"S68","x":314.7,"y":991.3},{"g":"S50","x":294.3,"y":966.3},{"g":"S56","x":280.3,"y":943.7},{"g":"S60","x":279,"y":913},{"g":"S39","x":280.3,"y":885.3},{"g":"S13","x":314.7,"y":837.7}],
"ee":[{"a":"S13","b":"S39","t":"p"},{"a":"S13","b":"S51","t":"n"},{"a":"S13","b":"S15","t":"n"},{"a":"S54","b":"S51","t":"p"},{"a":"S54","b":"S15","t":"p"},{"a":"S54","b":"S36","t":"p"},{"a":"S58","b":"S50","t":"n"},{"a":"S55","b":"S56","t":"n"},{"a":"S55","b":"S15","t":"n"},{"a":"S55","b":"S33","t":"p"},{"a":"S34","b":"S60","t":"p"},{"a":"S33","b":"S36","t":"n"},{"a":"S33","b":"S51","t":"n"},{"a":"S33","b":"S15","t":"n"},{"a":"S36","b":"S68","t":"n"},{"a":"S36","b":"S51","t":"p"},{"a":"S39","b":"S51","t":"n"},{"a":"S51","b":"S15","t":"p"}]
},
"concat":[
{"title":{"text":"A","anchor":"start","frame":"group","offset":0,"dx":-39,"dy":6,"font":"Liberation Serif","fontSize":18,"fontWeight":"normal","color":"#111","baseline":"alphabetic"},"width":187,"height":186,"data":{"name":"dA"},
"encoding":{"x":{"field":"a","type":"nominal","scale":{"type":"band","domain":["S54","S31","S55","S51","S33","S50","S68","S56","S13","S29","S58","S39","S36","S52","S3","S34","S60"],"paddingInner":0,"paddingOuter":0},"axis":null},"y":{"field":"b","type":"nominal","scale":{"type":"band","domain":["S54","S31","S55","S51","S33","S50","S68","S56","S13","S29","S58","S39","S36","S52","S3","S34","S60"],"paddingInner":0,"paddingOuter":0},"axis":{"title":null,"domain":false,"ticks":false,"labelExpr":"'EgrGRA'+datum.label","labelFont":"Liberation Sans","labelFontSize":6.5,"labelColor":"#222","labelPadding":2,"labelOverlap":false}}},
"layer":[{"mark":{"type":"rect","fill":"white","stroke":"#cfcfcf","strokeWidth":1}},
{"mark":{"type":"circle","opacity":1},"encoding":{"color":{"field":"r","type":"quantitative","scale":{"domain":[-1,-0.5,0,0.5,1],"range":["#6a0a2e","#b0637e","#ffffff","#7a92b3","#0b2f63"],"interpolate":"rgb"},"legend":{"type":"gradient","orient":"none","legendX":0,"legendY":189,"direction":"horizontal","gradientLength":187,"gradientThickness":7,"title":null,"values":[-1,-0.8,-0.6,-0.4,-0.2,0,0.2,0.4,0.6,0.8,1],"format":"~g","labelFontSize":6,"labelFont":"Liberation Sans","labelColor":"#222","labelAlign":"center","labelOverlap":false,"gradientStrokeColor":"#888","gradientStrokeWidth":0.5}},"size":{"field":"r","type":"quantitative","scale":{"domain":[-1,-0.5,-0.25,0,0.25,0.5,1],"range":[80,52,28,0,28,52,80]},"legend":null}}},
{"transform":[{"filter":"datum.s"}],"mark":{"type":"text","color":"white","fontSize":6,"dy":1.5,"font":"Liberation Sans"},"encoding":{"text":{"field":"s"}}},
{"transform":[{"filter":"datum.a==datum.b"},{"calculate":"'EgrGRA'+datum.a","as":"n"}],"mark":{"type":"text","angle":270,"align":"left","baseline":"middle","dx":8.5,"dy":-1,"fontSize":6.5,"font":"Liberation Sans","color":"#222"},"encoding":{"text":{"field":"n"}}}]},
{"title":{"text":"B","anchor":"start","frame":"group","offset":0,"dx":-40,"dy":6,"font":"Liberation Serif","fontSize":18,"fontWeight":"normal","color":"#111","baseline":"alphabetic"},"width":186,"height":186,"data":{"name":"dB"},
"encoding":{"x":{"field":"a","type":"nominal","scale":{"type":"band","domain":["S15","S54","S31","S55","S51","S33","S50","S68","S56","S13","S29","S58","S39","S36","S52","S3","S34","S60"],"paddingInner":0,"paddingOuter":0},"axis":null},"y":{"field":"b","type":"nominal","scale":{"type":"band","domain":["S15","S54","S31","S55","S51","S33","S50","S68","S56","S13","S29","S58","S39","S36","S52","S3","S34","S60"],"paddingInner":0,"paddingOuter":0},"axis":{"title":null,"domain":false,"ticks":false,"labelExpr":"'EgrGRA'+datum.label","labelFont":"Liberation Sans","labelFontSize":6.5,"labelColor":"#222","labelPadding":2,"labelOverlap":false}}},
"layer":[{"mark":{"type":"rect","fill":"white","stroke":"#cfcfcf","strokeWidth":1}},
{"mark":{"type":"circle","opacity":1},"encoding":{"color":{"field":"r","type":"quantitative","scale":{"domain":[-1,-0.5,0,0.5,1],"range":["#6a0a2e","#b0637e","#ffffff","#7a92b3","#0b2f63"],"interpolate":"rgb"},"legend":{"type":"gradient","orient":"none","legendX":0,"legendY":189,"direction":"horizontal","gradientLength":186,"gradientThickness":7,"title":null,"values":[-1,-0.8,-0.6,-0.4,-0.2,0,0.2,0.4,0.6,0.8,1],"format":"~g","labelFontSize":6,"labelFont":"Liberation Sans","labelColor":"#222","labelAlign":"center","labelOverlap":false,"gradientStrokeColor":"#888","gradientStrokeWidth":0.5}},"size":{"field":"r","type":"quantitative","scale":{"domain":[-1,-0.5,-0.25,0,0.25,0.5,1],"range":[72,47,25,0,25,47,72]},"legend":null}}},
{"transform":[{"filter":"datum.s"}],"mark":{"type":"text","color":"white","fontSize":6,"dy":1.5,"font":"Liberation Sans"},"encoding":{"text":{"field":"s"}}},
{"transform":[{"filter":"datum.a==datum.b"},{"calculate":"'EgrGRA'+datum.a","as":"n"}],"mark":{"type":"text","angle":270,"align":"left","baseline":"middle","dx":8,"dy":-1,"fontSize":6.5,"font":"Liberation Sans","color":"#222"},"encoding":{"text":{"field":"n"}}}]},
{"title":{"text":"C","anchor":"start","frame":"group","offset":0,"dx":-38,"dy":5,"font":"Liberation Serif","fontSize":18,"fontWeight":"normal","color":"#111","baseline":"alphabetic"},"width":187,"height":186,"data":{"name":"dC"},
"encoding":{"x":{"field":"a","type":"nominal","scale":{"type":"band","domain":["S15","S54","S31","S55","S51","S33","S50","S68","S56","S13","S29","S58","S39","S36","S52","S3","S34","S60"],"paddingInner":0,"paddingOuter":0},"axis":null},"y":{"field":"b","type":"nominal","scale":{"type":"band","domain":["S15","S54","S31","S55","S51","S33","S50","S68","S56","S13","S29","S58","S39","S36","S52","S3","S34","S60"],"paddingInner":0,"paddingOuter":0},"axis":{"title":null,"domain":false,"ticks":false,"labelExpr":"'EgrGRA'+datum.label","labelFont":"Liberation Sans","labelFontSize":6.5,"labelColor":"#222","labelPadding":2,"labelOverlap":false}}},
"layer":[{"mark":{"type":"rect","fill":"white","stroke":"#cfcfcf","strokeWidth":1}},
{"mark":{"type":"circle","opacity":1},"encoding":{"color":{"field":"r","type":"quantitative","scale":{"domain":[-1,-0.5,0,0.5,1],"range":["#6a0a2e","#b0637e","#ffffff","#7a92b3","#0b2f63"],"interpolate":"rgb"},"legend":{"type":"gradient","orient":"none","legendX":0,"legendY":189,"direction":"horizontal","gradientLength":187,"gradientThickness":7,"title":null,"values":[-1,-0.8,-0.6,-0.4,-0.2,0,0.2,0.4,0.6,0.8,1],"format":"~g","labelFontSize":6,"labelFont":"Liberation Sans","labelColor":"#222","labelAlign":"center","labelOverlap":false,"gradientStrokeColor":"#888","gradientStrokeWidth":0.5}},"size":{"field":"r","type":"quantitative","scale":{"domain":[-1,-0.5,-0.25,0,0.25,0.5,1],"range":[72,47,25,0,25,47,72]},"legend":null}}},
{"transform":[{"filter":"datum.s"}],"mark":{"type":"text","color":"white","fontSize":6,"dy":1.5,"font":"Liberation Sans"},"encoding":{"text":{"field":"s"}}},
{"transform":[{"filter":"datum.a==datum.b"},{"calculate":"'EgrGRA'+datum.a","as":"n"}],"mark":{"type":"text","angle":270,"align":"left","baseline":"middle","dx":8,"dy":-1,"fontSize":6.5,"font":"Liberation Sans","color":"#222"},"encoding":{"text":{"field":"n"}}}]},
{"title":{"text":"a","anchor":"start","frame":"group","offset":0,"dx":-39,"dy":40,"font":"Liberation Serif","fontSize":22,"fontWeight":"normal","color":"#111","baseline":"alphabetic"},"width":187,"height":244,
"encoding":{"x":{"field":"x","type":"quantitative","scale":{"domain":[39,226],"nice":false,"zero":false},"axis":null},"y":{"field":"y","type":"quantitative","scale":{"domain":[534,290],"nice":false,"zero":false},"axis":null}},
"layer":[{"data":{"name":"ea"},"transform":[{"lookup":"a","from":{"data":{"name":"na"},"key":"g","fields":["x","y"]}},{"lookup":"b","from":{"data":{"name":"na"},"key":"g","fields":["x","y"]},"as":["x2","y2"]}],"mark":"rule","encoding":{"x2":{"field":"x2"},"y2":{"field":"y2"},"color":{"field":"t","type":"nominal","scale":{"domain":["p","n","l"],"range":["#f25f65","#6fe86f","#f4a0a4"]},"legend":null},"strokeWidth":{"field":"t","type":"nominal","scale":{"domain":["p","n","l"],"range":[0.8,0.8,1.4]},"legend":null}}},
{"data":{"name":"na"},"mark":{"type":"circle","opacity":1,"color":"#79cbb6","size":95}},
{"data":{"name":"na"},"transform":[{"calculate":"'EgrGRA'+datum.g","as":"n"}],"mark":{"type":"text","font":"Liberation Serif","fontSize":6.6,"color":"#222"},"encoding":{"text":{"field":"n"}}}]},
{"title":{"text":"b","anchor":"start","frame":"group","offset":0,"dx":-38,"dy":38,"font":"Liberation Serif","fontSize":22,"fontWeight":"normal","color":"#111","baseline":"alphabetic"},"width":189,"height":244,
"encoding":{"x":{"field":"x","type":"quantitative","scale":{"domain":[292,481],"nice":false,"zero":false},"axis":null},"y":{"field":"y","type":"quantitative","scale":{"domain":[534,290],"nice":false,"zero":false},"axis":null}},
"layer":[{"data":{"name":"eb"},"transform":[{"lookup":"a","from":{"data":{"name":"nb"},"key":"g","fields":["x","y"]}},{"lookup":"b","from":{"data":{"name":"nb"},"key":"g","fields":["x","y"]},"as":["x2","y2"]}],"mark":"rule","encoding":{"x2":{"field":"x2"},"y2":{"field":"y2"},"color":{"field":"t","type":"nominal","scale":{"domain":["p","n","l"],"range":["#f25f65","#44cc44","#f4a0a4"]},"legend":null},"strokeWidth":{"field":"t","type":"nominal","scale":{"domain":["p","n","l"],"range":[0.8,0.8,1.4]},"legend":null}}},
{"data":{"name":"nb"},"mark":{"type":"circle","opacity":1,"color":"#79cbb6","size":80}},
{"data":{"name":"nb"},"transform":[{"calculate":"'EgrGRA'+datum.g","as":"n"}],"mark":{"type":"text","font":"Liberation Serif","fontSize":6.4,"color":"#222"},"encoding":{"text":{"field":"n"}}}]},
{"title":{"text":"c","anchor":"start","frame":"group","offset":0,"dx":-38,"dy":36,"font":"Liberation Serif","fontSize":20,"fontWeight":"bold","color":"#111","baseline":"alphabetic"},"width":187,"height":244,
"encoding":{"x":{"field":"x","type":"quantitative","scale":{"domain":[547,734],"nice":false,"zero":false},"axis":null},"y":{"field":"y","type":"quantitative","scale":{"domain":[534,290],"nice":false,"zero":false},"axis":null}},
"layer":[{"data":{"name":"ec"},"transform":[{"lookup":"a","from":{"data":{"name":"nc"},"key":"g","fields":["x","y"]}},{"lookup":"b","from":{"data":{"name":"nc"},"key":"g","fields":["x","y"]},"as":["x2","y2"]}],"mark":"rule","encoding":{"x2":{"field":"x2"},"y2":{"field":"y2"},"color":{"field":"t","type":"nominal","scale":{"domain":["p","n","l","P","N"],"range":["#f25f65","#6fe86f","#f4a0a4","#f23c40","#4fd654"]},"legend":null},"strokeWidth":{"field":"t","type":"nominal","scale":{"domain":["p","n","l","P","N"],"range":[0.8,0.8,1.4,1.5,1.5]},"legend":null}}},
{"data":{"name":"nc"},"mark":{"type":"circle","opacity":1,"color":"#79cbb6","size":95}},
{"data":{"name":"nc"},"transform":[{"calculate":"'EgrGRA'+datum.g","as":"n"}],"mark":{"type":"text","font":"Liberation Serif","fontSize":6.8,"color":"#222"},"encoding":{"text":{"field":"n"}}},
{"data":{"name":"leg"},"mark":"rule","encoding":{"x2":{"field":"x2"},"color":{"field":"t","type":"nominal","scale":{"domain":["p","n","l","P","N"],"range":["#f25f65","#6fe86f","#f4a0a4","#f23c40","#4fd654"]},"legend":null},"strokeWidth":{"field":"t","type":"nominal","scale":{"domain":["p","n","l","P","N"],"range":[0.8,0.8,1.4,1.5,1.5]},"legend":null}}},
{"data":{"name":"leg"},"mark":{"type":"text","font":"Liberation Serif","fontSize":11.6,"color":"#222"},"encoding":{"x":{"field":"tx","type":"quantitative","scale":{"domain":[547,734],"nice":false,"zero":false},"axis":null},"text":{"field":"label"}}}]},
{"title":{"text":"D","anchor":"start","frame":"group","offset":0,"dx":-39,"dy":14,"font":"Liberation Serif","fontSize":20,"fontWeight":"normal","color":"#111","baseline":"alphabetic"},"width":185,"height":186,"data":{"name":"dD"},
"encoding":{"x":{"field":"a","type":"nominal","scale":{"type":"band","domain":["S15","S54","S31","S55","S51","S33","S50","S68","S56","S13","S29","S58","S39","S36","S52","S3","S34","S60"],"paddingInner":0,"paddingOuter":0},"axis":null},"y":{"field":"b","type":"nominal","scale":{"type":"band","domain":["S15","S54","S31","S55","S51","S33","S50","S68","S56","S13","S29","S58","S39","S36","S52","S3","S34","S60"],"paddingInner":0,"paddingOuter":0},"axis":{"title":null,"domain":false,"ticks":false,"labelExpr":"'EgrGRA'+datum.label","labelFont":"Liberation Sans","labelFontSize":6.5,"labelColor":"#222","labelPadding":2,"labelOverlap":false}}},
"layer":[{"mark":{"type":"rect","fill":"white","stroke":"#cfcfcf","strokeWidth":1}},
{"mark":{"type":"circle","opacity":1},"encoding":{"color":{"field":"r","type":"quantitative","scale":{"domain":[-1,-0.5,0,0.5,1],"range":["#6a0a2e","#b0637e","#ffffff","#7a92b3","#0b2f63"],"interpolate":"rgb"},"legend":{"type":"gradient","orient":"none","legendX":0,"legendY":189,"direction":"horizontal","gradientLength":185,"gradientThickness":7,"title":null,"values":[-1,-0.8,-0.6,-0.4,-0.2,0,0.2,0.4,0.6,0.8,1],"format":"~g","labelFontSize":6,"labelFont":"Liberation Sans","labelColor":"#222","labelAlign":"center","labelOverlap":false,"gradientStrokeColor":"#888","gradientStrokeWidth":0.5}},"size":{"field":"r","type":"quantitative","scale":{"domain":[-1,-0.5,-0.25,0,0.25,0.5,1],"range":[72,47,25,0,25,47,72]},"legend":null}}},
{"transform":[{"filter":"datum.s"}],"mark":{"type":"text","color":"white","fontSize":6,"dy":1.5,"font":"Liberation Sans"},"encoding":{"text":{"field":"s"}}},
{"transform":[{"filter":"datum.a==datum.b"},{"calculate":"'EgrGRA'+datum.a","as":"n"}],"mark":{"type":"text","angle":270,"align":"left","baseline":"middle","dx":8,"dy":-1,"fontSize":6.5,"font":"Liberation Sans","color":"#222"},"encoding":{"text":{"field":"n"}}}]},
{"title":{"text":"E","anchor":"start","frame":"group","offset":0,"dx":-39,"dy":13,"font":"Liberation Serif","fontSize":20,"fontWeight":"normal","color":"#111","baseline":"alphabetic"},"width":185,"height":186,"data":{"name":"dE"},
"encoding":{"x":{"field":"a","type":"nominal","scale":{"type":"band","domain":["S15","S54","S31","S55","S51","S33","S50","S68","S56","S13","S29","S58","S39","S36","S52","S3","S34","S60"],"paddingInner":0,"paddingOuter":0},"axis":null},"y":{"field":"b","type":"nominal","scale":{"type":"band","domain":["S15","S54","S31","S55","S51","S33","S50","S68","S56","S13","S29","S58","S39","S36","S52","S3","S34","S60"],"paddingInner":0,"paddingOuter":0},"axis":{"title":null,"domain":false,"ticks":false,"labelExpr":"'EgrGRA'+datum.label","labelFont":"Liberation Sans","labelFontSize":6.5,"labelColor":"#222","labelPadding":2,"labelOverlap":false}}},
"layer":[{"mark":{"type":"rect","fill":"white","stroke":"#cfcfcf","strokeWidth":1}},
{"mark":{"type":"circle","opacity":1},"encoding":{"color":{"field":"r","type":"quantitative","scale":{"domain":[-1,-0.5,0,0.5,1],"range":["#6a0a2e","#b0637e","#ffffff","#7a92b3","#0b2f63"],"interpolate":"rgb"},"legend":{"type":"gradient","orient":"none","legendX":0,"legendY":189,"direction":"horizontal","gradientLength":185,"gradientThickness":7,"title":null,"values":[-1,-0.8,-0.6,-0.4,-0.2,0,0.2,0.4,0.6,0.8,1],"format":"~g","labelFontSize":6,"labelFont":"Liberation Sans","labelColor":"#222","labelAlign":"center","labelOverlap":false,"gradientStrokeColor":"#888","gradientStrokeWidth":0.5}},"size":{"field":"r","type":"quantitative","scale":{"domain":[-1,-0.5,-0.25,0,0.25,0.5,1],"range":[72,47,25,0,25,47,72]},"legend":null}}},
{"transform":[{"filter":"datum.s"}],"mark":{"type":"text","color":"white","fontSize":6,"dy":1.5,"font":"Liberation Sans"},"encoding":{"text":{"field":"s"}}},
{"transform":[{"filter":"datum.a==datum.b"},{"calculate":"'EgrGRA'+datum.a","as":"n"}],"mark":{"type":"text","angle":270,"align":"left","baseline":"middle","dx":8,"dy":-1,"fontSize":6.5,"font":"Liberation Sans","color":"#222"},"encoding":{"text":{"field":"n"}}}]},
{"data":{"values":[]},"mark":"point","width":1,"height":1},
{"title":{"text":"d","anchor":"start","frame":"group","offset":0,"dx":-39,"dy":50,"font":"Liberation Serif","fontSize":22,"fontWeight":"normal","color":"#111","baseline":"alphabetic"},"width":187,"height":228,
"encoding":{"x":{"field":"x","type":"quantitative","scale":{"domain":[39,226],"nice":false,"zero":false},"axis":null},"y":{"field":"y","type":"quantitative","scale":{"domain":[1016,788],"nice":false,"zero":false},"axis":null}},
"layer":[{"data":{"name":"ed"},"transform":[{"lookup":"a","from":{"data":{"name":"nd"},"key":"g","fields":["x","y"]}},{"lookup":"b","from":{"data":{"name":"nd"},"key":"g","fields":["x","y"]},"as":["x2","y2"]}],"mark":"rule","encoding":{"x2":{"field":"x2"},"y2":{"field":"y2"},"color":{"field":"t","type":"nominal","scale":{"domain":["p","n","l"],"range":["#f0484e","#8fe08f","#f7b9bc"]},"legend":null},"strokeWidth":{"field":"t","type":"nominal","scale":{"domain":["p","n","l"],"range":[0.8,0.8,1.6]},"legend":null}}},
{"data":{"name":"nd"},"mark":{"type":"circle","opacity":1,"color":"#79cbb6","size":177}},
{"data":{"name":"nd"},"transform":[{"calculate":"'EgrGRA'+datum.g","as":"n"}],"mark":{"type":"text","font":"Liberation Serif","fontSize":9.3,"color":"#222"},"encoding":{"text":{"field":"n"}}},
{"data":{"name":"note"},"mark":{"type":"text","font":"Liberation Serif","fontSize":9.3,"color":"#222"},"encoding":{"text":{"field":"label"}}}]},
{"title":{"text":"e","anchor":"start","frame":"group","offset":0,"dx":-38,"dy":50,"font":"Liberation Serif","fontSize":22,"fontWeight":"normal","color":"#111","baseline":"alphabetic"},"width":189,"height":228,
"encoding":{"x":{"field":"x","type":"quantitative","scale":{"domain":[292,481],"nice":false,"zero":false},"axis":null},"y":{"field":"y","type":"quantitative","scale":{"domain":[1016,788],"nice":false,"zero":false},"axis":null}},
"layer":[{"data":{"name":"ee"},"transform":[{"lookup":"a","from":{"data":{"name":"ne"},"key":"g","fields":["x","y"]}},{"lookup":"b","from":{"data":{"name":"ne"},"key":"g","fields":["x","y"]},"as":["x2","y2"]}],"mark":"rule","encoding":{"x2":{"field":"x2"},"y2":{"field":"y2"},"color":{"field":"t","type":"nominal","scale":{"domain":["p","n","l"],"range":["#f25f65","#6fe86f","#f4a0a4"]},"legend":null},"strokeWidth":{"field":"t","type":"nominal","scale":{"domain":["p","n","l"],"range":[0.8,0.8,1.4]},"legend":null}}},
{"data":{"name":"ne"},"mark":{"type":"circle","opacity":1,"color":"#79cbb6","size":107}},
{"data":{"name":"ne"},"transform":[{"calculate":"'EgrGRA'+datum.g","as":"n"}],"mark":{"type":"text","font":"Liberation Serif","fontSize":7,"color":"#222"},"encoding":{"text":{"field":"n"}}}]}
]}
